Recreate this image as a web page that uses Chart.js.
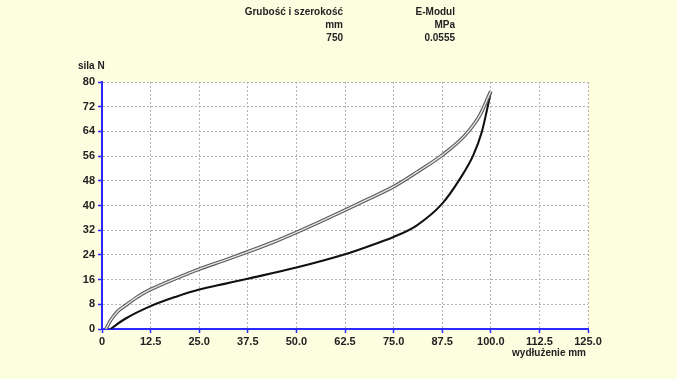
<!DOCTYPE html>
<html>
<head>
<meta charset="utf-8">
<script src="https://cdn.jsdelivr.net/npm/chart.js@4/dist/chart.umd.min.js"></script>
<style>
  html, body { margin: 0; padding: 0; background: #fdfde0; }
  canvas { display: block; }
</style>
</head>
<body>
<canvas id="graph" width="677" height="379"></canvas>
<script>
// loading curve (wydłużenie mm / siła N)
var loadX = [1, 2.2, 4, 6.1, 9, 12.5, 18.9, 25, 31.8, 37.5, 44, 50, 56, 62.5, 68, 75, 81, 87.5, 93.4, 97.2, 100];
var loadY = [0, 2.8, 5.7, 7.7, 10.3, 12.8, 16.3, 19.4, 22.4, 25, 28.1, 31.3, 34.7, 38.5, 41.8, 46.1, 50.8, 56.3, 62.8, 69.3, 77];

// unloading curve, listed from the start of the stroke up to the turning point
var unloadX = [2.2, 3.5, 6.1, 12.5, 18.9, 25, 31.8, 37.5, 50, 62.5, 71.6, 75, 81, 87.5, 92.1, 95.5, 97.7, 98.9, 100];
var unloadY = [0, 1.2, 3.4, 7.4, 10.4, 12.8, 14.7, 16.3, 19.9, 24.2, 28.2, 29.8, 33.6, 40.6, 48.7, 56.3, 63.9, 70.3, 76.8];

var xTicks = [0, 12.5, 25, 37.5, 50, 62.5, 75, 87.5, 100, 112.5, 125];
var yTicks = [0, 8, 16, 24, 32, 40, 48, 56, 64, 72, 80];

var headerCols = [
    { right: 343, lines: ["Grubość i szerokość", "mm", "750"] },
    { right: 455, lines: ["E-Modul", "MPa", "0.0555"] }
];
var yTitle = "sila N";
var xTitle = "wydłużenie mm";

function pairs(xs, ys) {
    return xs.map(function (x, i) { return { x: x, y: ys[i] }; });
}

var fontFamily = "'Liberation Sans', Arial, sans-serif";

// yellow page, white plot area, header and axis captions
var decorations = {
    id: 'decorations',
    beforeDraw: function (chart) {
        var ctx = chart.ctx, a = chart.chartArea;
        ctx.save();
        ctx.fillStyle = '#fdfde0';
        ctx.fillRect(0, 0, chart.width, chart.height);
        ctx.fillStyle = '#ffffff';
        ctx.fillRect(a.left, a.top, a.right - a.left, a.bottom - a.top);
        ctx.restore();
    },
    afterDraw: function (chart) {
        var ctx = chart.ctx;
        ctx.save();
        ctx.fillStyle = '#222222';
        ctx.font = 'bold 10px ' + fontFamily;
        ctx.textBaseline = 'middle';
        ctx.textAlign = 'right';
        headerCols.forEach(function (col) {
            col.lines.forEach(function (t, i) {
                ctx.fillText(t, col.right, 12 + i * 13);
            });
        });
        ctx.textAlign = 'left';
        ctx.fillText(yTitle, 78, 66);
        ctx.textAlign = 'right';
        ctx.fillText(xTitle, 586, 353);
        ctx.restore();
    }
};

var graph = new Chart(document.getElementById('graph').getContext('2d'), {
    type: 'scatter',
    data: {
        datasets: [{
            // light core of the double loading line
            data: pairs(loadX, loadY),
            borderColor: '#e4e4e4',
            borderWidth: 1.4,
            order: 0,
        }, {
            data: pairs(loadX, loadY),
            borderColor: '#5a5a5a',
            borderWidth: 3.6,
            order: 1,
        }, {
            data: pairs(unloadX, unloadY),
            borderColor: '#111111',
            borderWidth: 2.1,
            order: 2,
        }]
    },
    options: {
        responsive: false,
        animation: false,
        showLine: true,
        pointRadius: 0,
        pointHoverRadius: 0,
        cubicInterpolationMode: 'monotone',
        layout: { padding: { left: 0, right: 89, top: 82, bottom: 30 } },
        scales: {
            x: {
                type: 'linear',
                min: 0,
                max: 125,
                afterBuildTicks: function (axis) {
                    axis.ticks = xTicks.map(function (v) { return { value: v }; });
                },
                afterFit: function (axis) { axis.height = 20; },
                ticks: {
                    color: '#222222',
                    padding: 2,
                    maxRotation: 0,
                    font: { family: fontFamily, size: 11, weight: 'bold' },
                    callback: function (v) { return v === 0 ? '0' : v.toFixed(1); }
                },
                grid: {
                    color: '#b4b4b4',
                    tickColor: '#2a2aff',
                    tickLength: 4,
                    tickWidth: 1.5,
                },
                border: { color: '#2a2aff', width: 2, dash: [2, 2] }
            },
            y: {
                min: 0,
                max: 80,
                afterBuildTicks: function (axis) {
                    axis.ticks = yTicks.map(function (v) { return { value: v }; });
                },
                afterFit: function (axis) { axis.width = 102; },
                ticks: {
                    color: '#222222',
                    padding: 3,
                    font: { family: fontFamily, size: 11, weight: 'bold' },
                },
                grid: {
                    color: '#b4b4b4',
                    tickColor: '#2a2aff',
                    tickLength: 4,
                    tickWidth: 1.5,
                },
                border: { color: '#2a2aff', width: 2, dash: [2, 2] }
            }
        },
        plugins: {
            legend: { display: false },
            tooltip: { enabled: false }
        }
    },
    plugins: [decorations]
});
</script>
</body>
</html>
